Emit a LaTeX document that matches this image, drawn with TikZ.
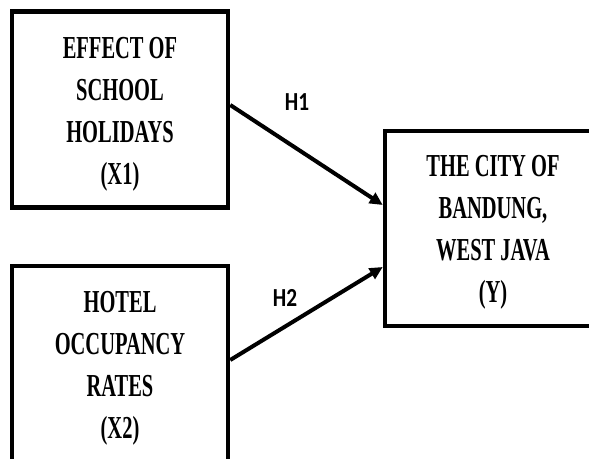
\documentclass[tikz,border=0pt]{standalone}
\usepackage{fontspec}
\usetikzlibrary{arrows.meta}
\newfontfamily\boxfont[FakeStretch=0.64]{Liberation Serif}
\newfontfamily\labfont[FakeStretch=0.82]{Carlito}
\begin{document}
\begin{tikzpicture}[x=1pt,y=-1pt,
  varbox/.style={draw=black,line width=4.5pt,minimum width=216pt,inner sep=0pt},
  boxtext/.style={align=center,inner sep=0pt,font=\boxfont\bfseries\fontsize{32}{42}\selectfont},
  arr/.style={line width=4pt,-{Triangle[length=13pt,width=12pt]}},
  hlab/.style={font=\labfont\bfseries\fontsize{26}{28}\selectfont,inner sep=0pt}]
\useasboundingbox (0,0) rectangle (589,458);
\clip (0,0) rectangle (589,458);
\node[varbox,minimum height=196pt] (b1) at (120,109.5) {};
\node[varbox,minimum height=200pt] (b2) at (120,366) {};
\node[varbox,minimum height=195pt] (b3) at (493,228.5) {};
\node[boxtext] (t1) at ([yshift=-5pt]b1.center) {EFFECT OF\\SCHOOL\\HOLIDAYS\\(X1)};
\node[boxtext] (t2) at ([yshift=-2pt]b2.center) {HOTEL\\OCCUPANCY\\RATES\\(X2)};
\node[boxtext] (t3) at ([yshift=-4pt]b3.center) {THE CITY OF\\BANDUNG,\\WEST JAVA\\(Y)};
\draw[arr] ([yshift=4.5pt]b1.east) -- ([yshift=23.5pt]b3.west);
\draw[arr] ([yshift=6pt]b2.east) -- ([yshift=-38.5pt]b3.west);
\node[hlab] (h1) at (297,102) {H1};
\node[hlab] (h2) at (285,298) {H2};
\end{tikzpicture}
\end{document}
